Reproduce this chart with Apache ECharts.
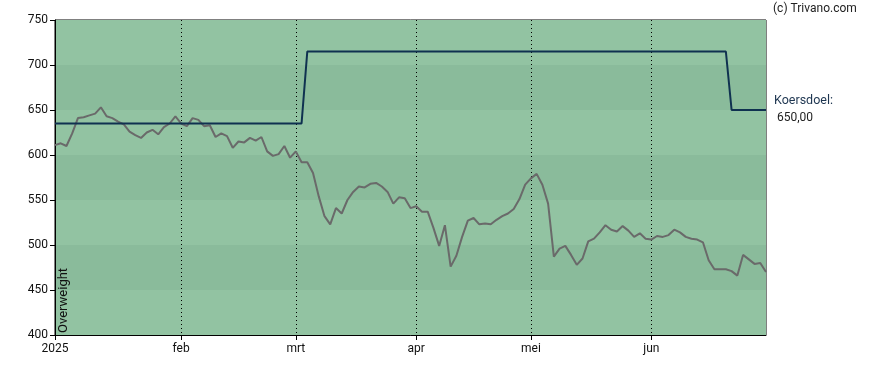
<!DOCTYPE html>
<html>
<head>
<meta charset="utf-8">
<script src="https://cdn.jsdelivr.net/npm/echarts@6/dist/echarts.min.js"></script>
<style>
html,body{margin:0;padding:0;background:#fff;}
#chart{width:888px;height:370px;}
</style>
</head>
<body>
<div id="chart"></div>
<script>
// Trading days (Euronext) Jan 2 – Jun 30, 2025
const categories = [
 '2025-01-02','2025-01-03','2025-01-06','2025-01-07','2025-01-08','2025-01-09','2025-01-10','2025-01-13','2025-01-14','2025-01-15','2025-01-16','2025-01-17','2025-01-20','2025-01-21','2025-01-22','2025-01-23','2025-01-24','2025-01-27','2025-01-28','2025-01-29','2025-01-30','2025-01-31',
 '2025-02-03','2025-02-04','2025-02-05','2025-02-06','2025-02-07','2025-02-10','2025-02-11','2025-02-12','2025-02-13','2025-02-14','2025-02-17','2025-02-18','2025-02-19','2025-02-20','2025-02-21','2025-02-24','2025-02-25','2025-02-26','2025-02-27','2025-02-28',
 '2025-03-03','2025-03-04','2025-03-05','2025-03-06','2025-03-07','2025-03-10','2025-03-11','2025-03-12','2025-03-13','2025-03-14','2025-03-17','2025-03-18','2025-03-19','2025-03-20','2025-03-21','2025-03-24','2025-03-25','2025-03-26','2025-03-27','2025-03-28','2025-03-31',
 '2025-04-01','2025-04-02','2025-04-03','2025-04-04','2025-04-07','2025-04-08','2025-04-09','2025-04-10','2025-04-11','2025-04-14','2025-04-15','2025-04-16','2025-04-17','2025-04-22','2025-04-23','2025-04-24','2025-04-25','2025-04-28','2025-04-29','2025-04-30',
 '2025-05-02','2025-05-05','2025-05-06','2025-05-07','2025-05-08','2025-05-09','2025-05-12','2025-05-13','2025-05-14','2025-05-15','2025-05-16','2025-05-19','2025-05-20','2025-05-21','2025-05-22','2025-05-23','2025-05-26','2025-05-27','2025-05-28','2025-05-29','2025-05-30',
 '2025-06-02','2025-06-03','2025-06-04','2025-06-05','2025-06-06','2025-06-09','2025-06-10','2025-06-11','2025-06-12','2025-06-13','2025-06-16','2025-06-17','2025-06-18','2025-06-19','2025-06-20','2025-06-23','2025-06-24','2025-06-25','2025-06-26','2025-06-27','2025-06-30'
];

// Month tick labels and the category index where each month starts
const monthLabels = ['2025','feb','mrt','apr','mei','jun'];
const monthStart = [0, 22, 42, 63, 83, 104];

// Share price
const price = [
 611,613,610,624,641,642,644,646,653,643,641,637,634,626,622,619,625,628,623,631,635,643,
 635,632,641,639,632,633,620,624,621,608,615,614,619,616,620,604,599,601,610,597,
 604,592,592,580,554,532,523,541,535,550,559,565,564,568,569,565,559,546,553,552,541,
 543,537,537,519,499,522,476,488,509,527,530,523,524,523,528,532,535,540,551,567,
 574,579,567,546,487,496,499,489,478,485,504,507,514,522,517,515,521,516,509,513,507,
 506,510,509,511,517,514,509,507,506,503,483,473,473,473,471,466,489,484,479,480,470
];

// Analyst price target (koersdoel)
const target = [
 635,635,635,635,635,635,635,635,635,635,635,635,635,635,635,635,635,635,635,635,635,635,
 635,635,635,635,635,635,635,635,635,635,635,635,635,635,635,635,635,635,635,635,
 635,635,715,715,715,715,715,715,715,715,715,715,715,715,715,715,715,715,715,715,715,
 715,715,715,715,715,715,715,715,715,715,715,715,715,715,715,715,715,715,715,715,
 715,715,715,715,715,715,715,715,715,715,715,715,715,715,715,715,715,715,715,715,715,
 715,715,715,715,715,715,715,715,715,715,715,715,715,715,650,650,650,650,650,650,650
];

const yTicks = [400, 450, 500, 550, 600, 650, 700, 750];
const targetLabel = 'Koersdoel:';
const targetValueText = '650,00';
const ratingText = 'Overweight';
const creditText = '(c) Trivano.com';

const FONT = 'Roboto, "Liberation Sans", Arial, sans-serif';
const chart = echarts.init(document.getElementById('chart'), null, {renderer: 'canvas'});

const isMonthStart = (i) => monthStart.indexOf(i) >= 0;

chart.setOption({
  animation: false,
  backgroundColor: '#ffffff',
  grid: {
    left: 55, right: 122, top: 20, bottom: 35,
    show: true, borderColor: '#000', borderWidth: 1, backgroundColor: 'transparent'
  },
  xAxis: {
    type: 'category',
    data: categories,
    boundaryGap: false,
    axisLine: {show: true, lineStyle: {color: '#000', width: 1}},
    axisTick: {show: true, length: 5, lineStyle: {color: '#000'}, interval: (i) => isMonthStart(i)},
    axisLabel: {
      interval: (i) => isMonthStart(i),
      formatter: (v, i) => monthLabels[monthStart.indexOf(i)] || '',
      color: '#111', fontSize: 12, fontFamily: FONT, margin: 8
    },
    splitLine: {
      show: true,
      interval: (i) => isMonthStart(i) && i !== 0,
      lineStyle: {color: '#000', type: [1, 3], width: 1}
    }
  },
  yAxis: {
    type: 'value',
    min: yTicks[0], max: yTicks[yTicks.length - 1], interval: 50,
    axisLine: {show: true, lineStyle: {color: '#000'}},
    axisTick: {show: true, length: 5, lineStyle: {color: '#000'}},
    axisLabel: {color: '#111', fontSize: 12, fontFamily: FONT, margin: 7},
    splitLine: {show: false},
    splitArea: {show: true, areaStyle: {color: ['#92c3a2', '#8abb9b']}}
  },
  series: [
    {
      name: 'Koers', type: 'line', data: price, symbol: 'none',
      lineStyle: {color: '#6a6a6a', width: 2}, z: 3
    },
    {
      name: 'Koersdoel', type: 'line', data: target, symbol: 'none',
      lineStyle: {color: '#0f3150', width: 2}, z: 4
    }
  ],
  graphic: [
    {type: 'text', left: 773, top: 3, z: 100,
     style: {text: creditText, fill: '#222', font: '12px ' + FONT}},
    {type: 'text', left: 774, top: 94, z: 100,
     style: {text: targetLabel, fill: '#1d3550', font: '12.5px ' + FONT}},
    {type: 'text', left: 777, top: 112, z: 100,
     style: {text: targetValueText, fill: '#222', font: '12px ' + FONT}},
    {type: 'group', x: 57, y: 333, rotation: Math.PI / 2, z: 100,
     children: [
       {type: 'text', x: 0, y: 0, z: 100,
        style: {text: ratingText, fill: '#111', font: '13px ' + FONT, align: 'left', verticalAlign: 'top'}}
     ]}
  ]
});
</script>
</body>
</html>
